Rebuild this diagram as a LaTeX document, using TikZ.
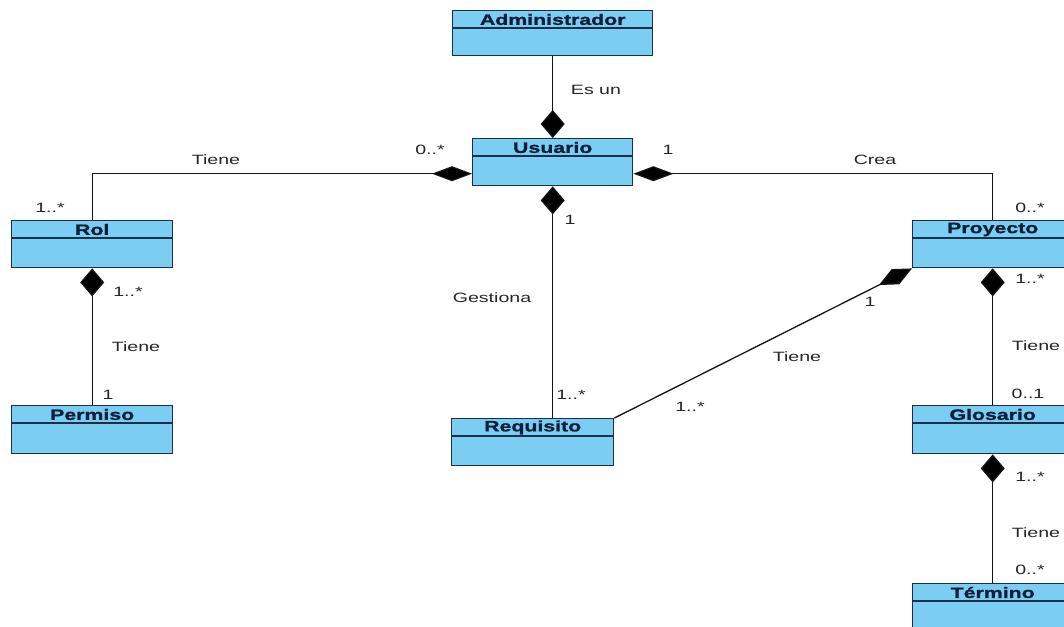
\documentclass[tikz,border=0pt]{standalone}
\usepackage{fontspec}
\usetikzlibrary{arrows.meta,calc}
\newfontfamily\lblfont{Liberation Sans}[FakeStretch=1.45]
\newfontfamily\ttlfont{Liberation Sans}[FakeStretch=1.42, BoldFeatures={FakeBold=1.3}]
\definecolor{clsfill}{HTML}{7BCDF2}
\definecolor{clsdraw}{HTML}{1B2F4A}
\definecolor{clstext}{HTML}{0F1E3A}
\definecolor{linecol}{HTML}{141414}
\tikzset{
  cls/.style={rectangle, draw=clsdraw, fill=clsfill, line width=1.4pt, inner sep=0pt, anchor=north west},
  divider/.style={draw=clsdraw, line width=1.2pt},
  title/.style={font=\ttlfont\bfseries\fontsize{15}{17}\selectfont, text=clstext, inner sep=0pt},
  lbl/.style={font=\lblfont\fontsize{13.5}{15}\selectfont, text=black!85, inner sep=0pt},
  conn/.style={draw=linecol, line width=1.3pt},
  hdia/.style={-{Diamond[length=40pt,width=15pt,fill=black]}},
  vdia/.style={-{Diamond[length=28pt,width=24pt,fill=black]}},
  ddia/.style={-{Diamond[length=37pt,width=17pt,fill=black]}},
}
\newcommand\umlclass[6]{%
  \node[cls, minimum width=#4, minimum height=#5] (#1) at (#2,#3) {};
  \draw[divider] ([yshift=-18pt]#1.north west) -- ([yshift=-18pt]#1.north east);
  \node[title] (#1-t) at ([yshift=-9.5pt]#1.north) {#6};
}
\begin{document}
\begin{tikzpicture}[x=1pt,y=-1pt]
\useasboundingbox (0,0) rectangle (1064,626);
\fill[white] (0,0) rectangle (1064,626);
\clip (0,0) rectangle (1064,626);

% classes
\umlclass{adm}{452}{10}{200}{45}{Administrador}
\umlclass{usu}{472}{138}{160}{47}{Usuario}
\umlclass{rol}{11}{220}{161}{47}{Rol}
\umlclass{per}{11}{405}{161}{48}{Permiso}
\umlclass{req}{451}{418}{162}{47}{Requisito}
\umlclass{pro}{912}{220}{160}{47}{Proyecto}
\umlclass{glo}{912}{405}{160}{48}{Glosario}
\umlclass{ter}{912}{583}{160}{48}{Término}

% connectors
\draw[conn, vdia] (adm.south) -- (usu.north);
\draw[conn, hdia] (rol.north) |- ([yshift=-11.5pt]usu.west);
\draw[conn, hdia] (pro.north) |- ([yshift=-11.5pt]usu.east);
\draw[conn, vdia] (usu.south |- req.north) -- (usu.south);
\draw[conn, vdia] (per.north) -- (rol.south);
\draw[conn, ddia] (req.north east) -- (pro.south west);
\draw[conn, vdia] (glo.north) -- (pro.south);
\draw[conn, vdia] (ter.north) -- (glo.south);

% labels
\node[lbl] (l-esun) at (596,90) {Es un};
\node[lbl] (l-tiene1) at (216,160) {Tiene};
\node[lbl] (l-m1) at (430,150) {0..*};
\node[lbl] (l-m2) at (50,208) {1..*};
\node[lbl] (l-m3) at (128,292) {1..*};
\node[lbl] (l-tiene2) at (136,347) {Tiene};
\node[lbl] (l-m4) at (108,395) {1};
\node[lbl] (l-m5) at (668,150) {1};
\node[lbl] (l-crea) at (875,160) {Crea};
\node[lbl] (l-m6) at (1030,208) {0..*};
\node[lbl] (l-m7) at (1030,279) {1..*};
\node[lbl] (l-tiene3) at (1036,346) {Tiene};
\node[lbl] (l-m8) at (1028,394) {0..1};
\node[lbl] (l-m9) at (1030,477) {1..*};
\node[lbl] (l-tiene4) at (1036,533) {Tiene};
\node[lbl] (l-m10) at (1030,570) {0..*};
\node[lbl] (l-m11) at (570,220) {1};
\node[lbl] (l-gest) at (492,298) {Gestiona};
\node[lbl] (l-m12) at (571,395) {1..*};
\node[lbl] (l-m13) at (870,302) {1};
\node[lbl] (l-tiene5) at (797,357) {Tiene};
\node[lbl] (l-m14) at (690,407) {1..*};
\end{tikzpicture}
\end{document}
